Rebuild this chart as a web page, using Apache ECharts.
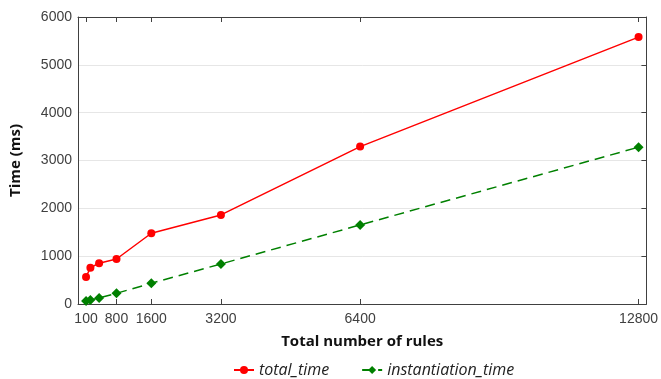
<!DOCTYPE html>
<html><head><meta charset="utf-8">
<script src="https://cdn.jsdelivr.net/npm/echarts@6/dist/echarts.min.js"></script>
<style>html,body{margin:0;padding:0;background:#fff}#c{width:661px;height:379px}</style>
</head><body><div id="c"></div>
<script>
const rules = [100, 200, 400, 800, 1600, 3200, 6400, 12800];
const totalTime = [565, 760, 851, 941, 1479, 1862, 3291, 5580];
const instantiationTime = [63, 84, 126, 224, 433, 837, 1653, 3278];
const xTickLabels = [100, 800, 1600, 3200, 6400, 12800];

const chart = echarts.init(document.getElementById('c'));
const labelFont = {fontFamily: 'Liberation Sans, Arial, sans-serif', fontSize: 14, color: '#404040'};
const axisLineStyle = {color: '#404040', width: 1};
const plain = v => String(v);
chart.setOption({
  animation: false,
  grid: {left: 76, right: 13, top: 17, bottom: 75, containLabel: false},
  legend: {
    top: 360, left: 228, itemWidth: 20, itemHeight: 10, itemGap: 32, padding: [2, 5, 2, 5],
    textStyle: {fontFamily: 'Open Sans, sans-serif', fontStyle: 'italic', fontSize: 16, color: '#222'},
    data: ['total_time', 'instantiation_time']
  },
  xAxis: [{
    type: 'value', min: -85, max: 12980, position: 'bottom',
    name: 'Total number of rules', nameLocation: 'middle', nameGap: 30,
    nameTextStyle: {fontFamily: 'Open Sans, sans-serif', fontWeight: 'bold', fontSize: 15, color: '#111'},
    axisLine: {show: true, onZero: false, lineStyle: axisLineStyle},
    axisTick: {show: true, inside: true, length: 5, customValues: xTickLabels, lineStyle: axisLineStyle},
    axisLabel: Object.assign({customValues: xTickLabels, margin: 8, formatter: plain}, labelFont),
    splitLine: {show: false}
  }, {
    type: 'value', min: -85, max: 12980, position: 'top',
    axisLine: {show: true, onZero: false, lineStyle: axisLineStyle},
    axisTick: {show: true, inside: true, length: 5, customValues: xTickLabels, lineStyle: axisLineStyle},
    axisLabel: {show: false, customValues: xTickLabels}, splitLine: {show: false}
  }],
  yAxis: [{
    type: 'value', min: 0, max: 6000, interval: 1000, position: 'left',
    name: 'Time (ms)', nameLocation: 'middle', nameGap: 55,
    nameTextStyle: {fontFamily: 'Open Sans, sans-serif', fontWeight: 'bold', fontSize: 15, color: '#111'},
    axisLine: {show: true, onZero: false, lineStyle: axisLineStyle},
    axisTick: {show: false},
    axisLabel: Object.assign({margin: 6, formatter: plain}, labelFont),
    splitLine: {show: true, lineStyle: {color: '#e6e6e6', width: 1}}
  }, {
    type: 'value', min: 0, max: 6000, interval: 1000, position: 'right',
    axisLine: {show: true, onZero: false, lineStyle: axisLineStyle},
    axisTick: {show: true, inside: true, length: 5, lineStyle: axisLineStyle},
    axisLabel: {show: false}, splitLine: {show: false}
  }],
  series: [{
    name: 'total_time', type: 'line',
    data: rules.map((r, i) => [r, totalTime[i]]),
    symbol: 'circle', symbolSize: 8,
    itemStyle: {color: '#ff0000'},
    lineStyle: {color: '#ff0000', width: 1.5}
  }, {
    name: 'instantiation_time', type: 'line',
    data: rules.map((r, i) => [r, instantiationTime[i]]),
    symbol: 'diamond', symbolSize: 10,
    itemStyle: {color: '#008000'},
    lineStyle: {color: '#008000', width: 1.5, type: [10, 6]}
  }]
});
</script></body></html>
